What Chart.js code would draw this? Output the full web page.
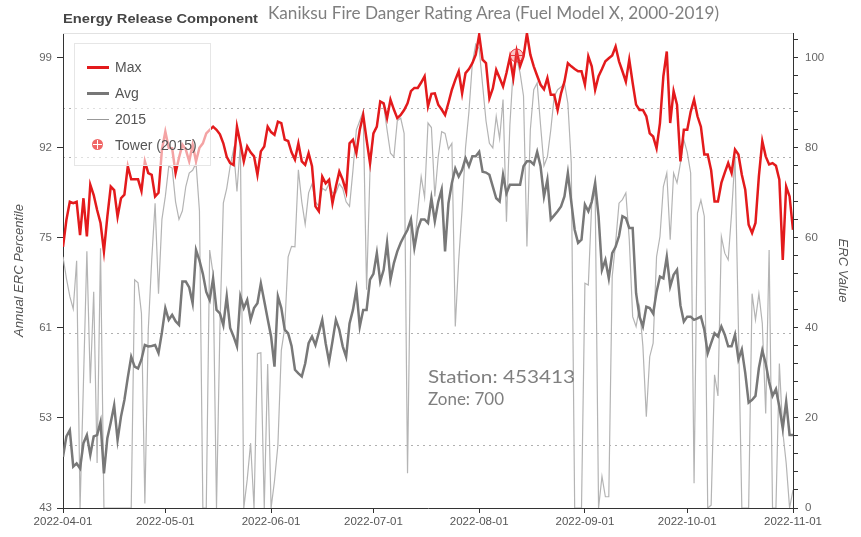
<!DOCTYPE html>
<html><head><meta charset="utf-8">
<script src="https://cdn.jsdelivr.net/npm/chart.js@4.4.1/dist/chart.umd.min.js"></script>
<style>
html,body{margin:0;padding:0;background:#fff;}
#wrap{position:relative;width:861px;height:537px;overflow:hidden;background:#fff;}
#c{position:absolute;left:0;top:0;}
.txt{position:absolute;white-space:nowrap;transform-origin:0 0;}
#t1{left:63px;top:11px;font:bold 13px "Liberation Sans",Arial,sans-serif;color:#454545;}
#t2{left:268px;top:2px;font:17px "Lato","Open Sans",sans-serif;color:#7f7f7f;}
#st{left:428px;top:366px;font:17px "Lato","Open Sans",sans-serif;color:#7f7f7f;}
#zn{left:428px;top:388px;font:17px "Lato","Open Sans",sans-serif;color:#7f7f7f;}
#legend{position:absolute;left:74px;top:43px;width:137px;height:123px;background:rgba(255,255,255,0.6);border:1px solid #e6e6e6;box-sizing:border-box;}
.li{position:absolute;left:0;height:20px;width:137px;}
.sw{position:absolute;left:12px;width:22px;}
.lt{position:absolute;left:40px;top:2px;font:14px "Liberation Sans",Arial,sans-serif;color:#555;}
.mk{position:absolute;left:17px;top:4px;width:11px;height:11px;border-radius:50%;background:rgba(235,50,50,0.75);}
.mk:before{content:"";position:absolute;left:5px;top:1px;width:1px;height:9px;background:#fff;}
.mk:after{content:"";position:absolute;left:1px;top:5px;width:9px;height:1px;background:#fff;}
</style></head>
<body>
<div id="wrap">
<canvas id="c" width="861" height="537"></canvas>
<div id="t1" class="txt">Energy Release Component</div>
<div id="t2" class="txt">Kaniksu Fire Danger Rating Area (Fuel Model X, 2000-2019)</div>
<div id="st" class="txt">Station: 453413</div>
<div id="zn" class="txt">Zone: 700</div>
<div id="legend">
 <div class="li" style="top:13px"><div class="sw" style="top:9px;height:3px;background:#e31a1c"></div><div class="lt">Max</div></div>
 <div class="li" style="top:39px"><div class="sw" style="top:9px;height:3px;background:#777"></div><div class="lt">Avg</div></div>
 <div class="li" style="top:65px"><div class="sw" style="top:10px;height:1px;background:#999"></div><div class="lt">2015</div></div>
 <div class="li" style="top:91px"><div class="mk"></div><div class="lt">Tower (2015)</div></div>
</div>
</div>
<script>
// ---- categories: daily dates 2022-04-01 .. 2022-11-01 (day index 0..214)
const startDate = '2022-04-01';
const dayCount = 215;
const tickDays   = [0, 30, 61, 91, 122, 153, 183, 214];
const tickLabels = ['2022-04-01','2022-05-01','2022-06-01','2022-07-01','2022-08-01','2022-09-01','2022-10-01','2022-11-01'];
const leftTickValues = [0, 20, 40, 60, 80, 100];
const leftTickLabels = ['43', '53', '61', '75', '92', '99'];
const thresholdLines = [13.8, 38.8, 77.9, 88.8];

// ---- series values (ERC value)
const maxSeries = [
58,64,68,67.7,68,60.6,68.8,60.3,71.8,69.5,
66.2,63.3,57,64.7,71.4,70.6,64.7,68.8,69.6,75.9,
73,73,73,70.4,77,74.4,74,69.2,70,79.6,
83.6,80,79.9,74.4,77.8,80.7,79.6,77,80.7,77,
80,81,83.2,84,84.7,84,83,81,78,76.6,
76.2,84.7,81,77,80.3,79,78.1,74,79.2,80.3,
84.7,83.5,82.9,85.8,85.5,81.8,81.5,79,77.4,81,
77,76.2,78.8,75.9,67,65.9,73.6,72.1,72.9,67.7,
71.4,74.7,72.9,70.3,81,81.8,78.8,84,87.3,81.8,
76.6,83.2,84.7,90.3,89.9,86.6,90.7,88.5,86.6,87.3,
88.4,89.9,92.6,93.3,93.3,94.5,95.9,89.2,92,92.1,
89.6,88.5,87.3,90,92.9,95.1,97,92.1,96.6,97.5,
98.8,100.7,105.1,99.6,98.8,91,93.2,97.3,95.5,93.6,
96.6,100.1,95.5,101.4,98.1,100.3,105.4,100.7,98.1,96,
94,93,95.5,91.8,91.8,88.4,92.1,94.7,98.8,98.1,
97.5,97,97,94,100.3,98.1,92.9,95.9,97.5,99.2,
99.9,100.5,102.5,99.2,97,94.7,99.6,94.4,89.6,88.4,
88.4,87,83.2,82.5,79.9,85.5,95.9,101.4,85.5,92.6,
89.6,77,84,84,88,90.7,87,84.7,78.5,78.5,
75,68.1,68.1,72.2,74.5,76.6,74.4,79.6,78.5,74,
70.7,62.9,61.1,63.3,73.7,81.5,78.1,76.3,76.6,76,
72.9,55.1,71.4,69.2,61.8
];
const avgSeries = [
11.4,15.9,17.3,9.2,9.9,8.8,14.4,16.2,11.8,15.9,
16.2,19.1,7.7,15.5,19,22.8,15.1,20.3,24,29,
33.6,31.4,31,33,36.2,35.9,36,36.2,34.4,39,
44.4,41.8,42.9,41.5,40.7,50.3,50.3,49,45.5,57.3,
55,52,48,46.2,51,44,43.2,40.6,47,40,
38.1,35.9,47,44.4,46.2,41.8,44.4,45.5,49.9,46,
42,38.1,31.4,47,44.4,39.6,38.8,36,30.7,29.9,
29.2,32.1,36.6,38.1,36.2,39,41.8,36.6,32.5,37,
41.8,39.6,35.9,33.6,41,44,48.5,40.3,44,44,
50.7,52,56.6,50.3,52.9,58.9,50.7,54.4,57,58.9,
60.4,61.8,64.1,57.8,62,64.1,64.1,63.3,68.8,63.7,
68,70.7,57,67.7,72.2,75.4,73.6,75.1,77.7,75.9,
78.1,78.1,79.1,74.7,74.5,74,71.4,68.8,68.1,74,
69.9,71.8,71.8,71.8,71.8,75.9,77,77,76.3,79.1,
75.9,69.2,72.9,64.1,65,65.9,67,69.2,74.4,68,
61.8,58.9,59.6,67.4,65.9,68,72.2,64.8,52.9,55.1,
51,56.6,58,60.4,64.8,64.4,62.2,62.2,47.7,42.5,
40.3,44.7,44.4,43.2,48,51.4,51,55.8,49.2,51.8,
52.9,45,41.4,42.5,42.5,41.8,42.1,42.5,39.6,34.4,
36.6,38.8,38.1,40.3,38.5,35.9,35.9,38.5,33,35.2,
30,23.4,24,24.9,31.1,35,32.1,28,24.9,26.4,
22.5,17.7,23.6,16.2,16.2
];
const y2015Series = [
55.8,51,47,44.2,54.9,0,28,57,27.7,48,
10,57.7,0,0,0,0,0,0,0,0,
0,50.7,50,43.2,1,39.6,55,67.7,47.6,64.1,
69.2,75.9,75.5,68,64.1,66,71.4,74.4,75,76.6,
66,0,0,57.3,52,0,40,67.7,71,75.9,
79.6,70.3,81,0,6.3,14.4,0,34.3,34.5,0,
32,0,6,14,35,40,55.8,58.1,58,75.1,
68,63,70,72,68,67,71,70.5,72,70,
70,72,71,68,67,75,84,86,88.1,48.5,
75,83,84.7,90.3,89.5,84,78.8,78,86,86.6,
83.2,7.7,63.3,58,66,73.6,69,85.5,84.5,69.2,
78,83.6,83.2,79.7,81,40.3,55,66.4,80,88,
98.8,103,102,94,86,81,80,87,82,90.7,
63.6,85,97.7,100,96.6,91.5,58.1,84,92.9,94.4,
85,76,78,84,91.4,92.9,93.5,94.4,89.9,76.6,
0,0,0,49.9,49.5,67.7,70.3,0,7,2.5,
2.5,51.4,58.9,67.7,68.5,70,59.6,42.5,40.3,44.7,
35.9,20.3,33.6,36.6,55.8,60.3,71.4,74.4,59.6,74.4,
72.2,76.6,81.8,79,74.4,5.5,65.5,68.4,64.8,0,
0.6,29.6,24.9,60.3,56.6,55.1,65.5,78.1,40,0,
0,0,47.6,41.8,47.6,41,21,57.3,0,0,
32.1,17,10,0,4
];
const towerDay = [133];
const towerValue = [100.5];

// ---- build
const dayIndex = Array.from({length: dayCount}, (_, i) => i);
const pts = arr => arr.map((v, i) => ({x: dayIndex[i], y: v}));

const topLine = {
  id: 'topLine',
  beforeDatasetsDraw(chart) {
    const {ctx, chartArea: a} = chart;
    ctx.save();
    ctx.strokeStyle = '#e2e2e2'; ctx.lineWidth = 1;
    ctx.beginPath(); ctx.moveTo(a.left, a.top + 0.5); ctx.lineTo(a.right, a.top + 0.5); ctx.stroke();
    ctx.restore();
  }
};

const tickFont = {family: '"Liberation Sans", Arial, sans-serif', size: 11.5};
new Chart(document.getElementById('c'), {
  type: 'line',
  data: {
    datasets: [
      {label: 'Tower (2015)', data: towerDay.map((d, i) => ({x: d, y: towerValue[i]})), showLine: false,
       pointStyle: 'circle', pointRadius: 6.5, backgroundColor: 'rgba(240,70,70,0.3)', borderColor: '#e8333a', borderWidth: 1, order: 0},
      {label: 'Tower cross', data: towerDay.map((d, i) => ({x: d, y: towerValue[i]})), showLine: false,
       pointStyle: 'cross', pointRadius: 6.5, borderColor: '#e8333a', borderWidth: 1, order: 0},
      {label: 'Max', data: pts(maxSeries), borderColor: '#e31a1c', borderWidth: 2.5, pointRadius: 0, tension: 0, order: 1},
      {label: 'Avg', data: pts(avgSeries), borderColor: '#787878', borderWidth: 2.5, pointRadius: 0, tension: 0, order: 2},
      {label: '2015', data: pts(y2015Series), borderColor: '#b4b4b4', borderWidth: 1.2, pointRadius: 0, tension: 0, order: 3}
    ]
  },
  options: {
    responsive: false, animation: false, devicePixelRatio: 1,
    layout: {padding: {top: 33, left: 0, right: 0, bottom: 0}},
    plugins: {legend: {display: false}, tooltip: {enabled: false}, title: {display: false}},
    scales: {
      x: {
        type: 'linear', position: 'bottom', min: 0, max: dayCount - 1,
        afterBuildTicks: s => { s.ticks = tickDays.map(v => ({value: v})); },
        afterFit: s => { s.height = 29; },
        ticks: {autoSkip: false, maxRotation: 0, color: '#555', font: tickFont, padding: 2,
                callback: v => tickLabels[tickDays.indexOf(v)] ?? ''},
        grid: {drawOnChartArea: false, drawTicks: true, tickLength: 5, color: '#333'},
        border: {color: '#333', width: 1}
      },
      yL: {
        type: 'linear', position: 'left', min: 0, max: 105.5,
        afterBuildTicks: s => { s.ticks = leftTickValues.map(v => ({value: v})); },
        afterFit: s => { s.width = 63; },
        ticks: {autoSkip: false, color: '#666', font: tickFont, padding: 5,
                callback: v => leftTickLabels[leftTickValues.indexOf(v)] ?? ''},
        grid: {drawOnChartArea: false, drawTicks: true, tickLength: 6, color: '#333'},
        border: {color: '#333', width: 1},
        title: {display: true, text: 'Annual ERC Percentile', color: '#555',
                font: {family: '"Liberation Sans", Arial, sans-serif', size: 13, style: 'italic'}, padding: {top: 12, bottom: 0}}
      },
      yG: {
        type: 'linear', position: 'left', min: 0, max: 105.5,
        afterBuildTicks: s => { s.ticks = thresholdLines.map(v => ({value: v})); },
        afterFit: s => { s.width = 0; },
        ticks: {display: false},
        grid: {drawOnChartArea: true, drawTicks: false, color: '#b0b0b0', lineWidth: 1},
        border: {display: false, dash: [2, 4]}
      },
      y: {
        type: 'linear', position: 'right', min: 0, max: 105.5,
        afterBuildTicks: s => { const t = []; for (let v = 0; v <= 104; v += 4) t.push({value: v}); s.ticks = t; },
        afterFit: s => { s.width = 68; },
        ticks: {autoSkip: false, color: '#666', font: tickFont, padding: 7,
                callback: v => (v % 20 === 0 ? String(v) : '')},
        grid: {drawOnChartArea: false, drawTicks: true, tickLength: 5, color: '#333'},
        border: {color: '#333', width: 1},
        title: {display: true, text: 'ERC Value', color: '#555',
                font: {family: '"Liberation Sans", Arial, sans-serif', size: 13, style: 'italic'}, padding: {top: 11, bottom: 0}}
      }
    }
  },
  plugins: [topLine]
});

// fit header / annotation text widths to the reference layout
function fitW(id, w) { const el = document.getElementById(id); const cw = el.getBoundingClientRect().width; if (cw > 0) el.style.transform = 'scaleX(' + (w / cw) + ')'; }
fitW('t1', 195); fitW('t2', 451); fitW('st', 147); fitW('zn', 76);
</script>
</body></html>
